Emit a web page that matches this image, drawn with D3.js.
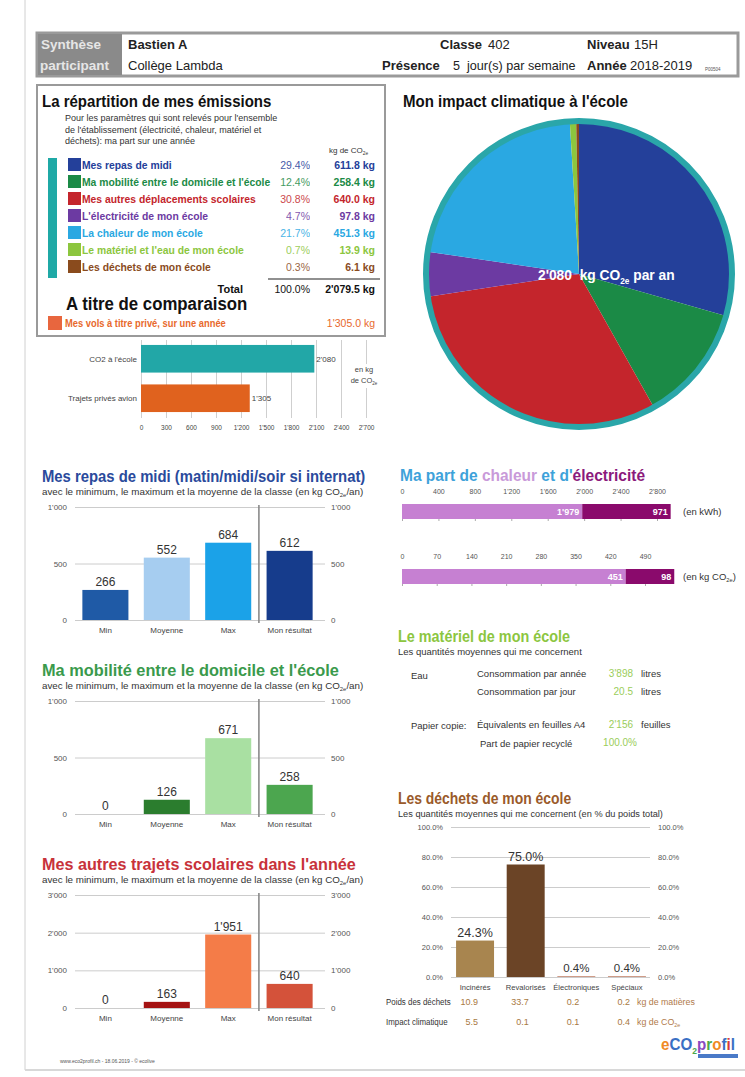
<!DOCTYPE html>
<html>
<head>
<meta charset="utf-8">
<script src="https://cdn.jsdelivr.net/npm/d3@7"></script>
<style>
  body { margin: 0; background: #fff; }
  svg { display: block; font-family: "Liberation Sans", Arial, sans-serif; }
</style>
</head>
<body>
<svg id="page" width="745" height="1077"></svg>
<script>
// ---------- data ----------
const emissionLabels = ["Mes repas de midi", "Ma mobilité entre le domicile et l'école", "Mes autres déplacements scolaires",
  "L'électricité de mon école", "La chaleur de mon école", "Le matériel et l'eau de mon école", "Les déchets de mon école"];
const emissionShares = [29.4, 12.4, 30.8, 4.7, 21.7, 0.7, 0.3];
const emissionKg = [611.8, 258.4, 640.0, 97.8, 451.3, 13.9, 6.1];
const emissionColors = ["#24409a", "#1b8a46", "#c4252c", "#6c3aa2", "#2aa8e2", "#8cc63e", "#8a4b1d"];
const emissionTotal = 2079.5;
const flightKg = 1305.0;

const comparisonLabels = ["CO2 à l'école", "Trajets privés avion"];
const comparisonValues = [2080, 1305];
const comparisonTicks = [0, 300, 600, 900, 1200, 1500, 1800, 2100, 2400, 2700];

const classCategories = ["Min", "Moyenne", "Max", "Mon résultat"];
const repasValues = [266, 552, 684, 612];
const mobiliteValues = [0, 126, 671, 258];
const trajetsValues = [0, 163, 1951, 640];

const heatLabels = ["chaleur", "électricité"];
const energyKwh = [1979, 971];
const energyCo2 = [451, 98];
const kwhTicks = [0, 400, 800, 1200, 1600, 2000, 2400, 2800];
const co2Ticks = [0, 70, 140, 210, 280, 350, 420, 490];

const waterPerYear = 3898;
const waterPerDay = 20.5;
const paperSheets = 2156;
const paperRecycled = 100.0;

const wasteCategories = ["Incinérés", "Revalorisés", "Électroniques", "Spéciaux"];
const wasteShares = [24.3, 75.0, 0.4, 0.4];
const wasteWeight = [10.9, 33.7, 0.2, 0.2];
const wasteImpact = [5.5, 0.1, 0.1, 0.4];
const wasteTicks = [0, 20, 40, 60, 80, 100];

// ---------- helpers ----------
const loc = d3.formatLocale({ decimal: ".", thousands: "'", grouping: [3], currency: ["", ""] });
const fmt0 = loc.format(",.0f");
const fmt1 = loc.format(",.1f");

const svg = d3.select("#page");

// text helper; opts.sx squeezes the text horizontally (the original uses a narrow face)
function txt(g, x, y, s, size, opts = {}) {
  const t = g.append("text").attr("font-size", size)
    .attr("fill", opts.fill || "#333")
    .attr("text-anchor", opts.anchor || "start")
    .attr("font-weight", opts.bold ? "bold" : "normal")
    .text(s);
  if (opts.sx) t.attr("transform", `translate(${x},${y}) scale(${opts.sx},1)`);
  else t.attr("x", x).attr("y", y);
  return t;
}
// "CO2e" with small subscript
function co2(t, base) {
  t.append("tspan").text("CO");
  t.append("tspan").text("2e").attr("font-size", "0.6em").attr("dy", base * 0.25);
  return t;
}

// page edge
svg.append("line").attr("x1", 25).attr("x2", 25).attr("y1", 0).attr("y2", 1070).attr("stroke", "#d0d0d0");
svg.append("line").attr("x1", 25).attr("x2", 745).attr("y1", 1070).attr("y2", 1070).attr("stroke", "#d8d8d8").attr("stroke-width", 2);

// ---------- header ----------
const hd = svg.append("g");
hd.append("rect").attr("x", 37).attr("y", 33).attr("width", 701).attr("height", 43)
  .attr("fill", "#fff").attr("stroke", "#9a9a9a").attr("stroke-width", 3);
hd.append("rect").attr("x", 38).attr("y", 34).attr("width", 84).attr("height", 41).attr("fill", "#8a8a8a");
txt(hd, 41, 49, "Synthèse", 13.5, { bold: true, fill: "#e6e6e6" });
txt(hd, 40, 70, "participant", 13.5, { bold: true, fill: "#e6e6e6" });
txt(hd, 128, 49, "Bastien A", 13, { bold: true, fill: "#222" });
txt(hd, 128, 70, "Collège Lambda", 13, { fill: "#222" });
txt(hd, 440, 49, "Classe", 13, { bold: true, fill: "#222" });
txt(hd, 488, 49, "402", 13, { fill: "#222" });
txt(hd, 587, 49, "Niveau", 13, { bold: true, fill: "#222" });
txt(hd, 634, 49, "15H", 13, { fill: "#222" });
txt(hd, 382, 70, "Présence", 13, { bold: true, fill: "#222" });
txt(hd, 453, 70, "5\u00a0 jour(s) par semaine", 13, { fill: "#222", sx: 0.97 });
txt(hd, 587, 70, "Année", 13, { bold: true, fill: "#222" });
txt(hd, 630, 70, "2018-2019", 13, { fill: "#222" });
txt(hd, 705, 71, "P00504", 4.5, { fill: "#555" });

// ---------- emissions table ----------
const em = svg.append("g");
em.append("rect").attr("x", 37).attr("y", 85).attr("width", 348).attr("height", 251)
  .attr("fill", "none").attr("stroke", "#9a9a9a").attr("stroke-width", 2);
txt(em, 42, 107, "La répartition de mes émissions", 16.5, { bold: true, fill: "#111", sx: 0.91 });
["Pour les paramètres qui sont relevés pour l'ensemble",
 "de l'établissement (électricité, chaleur, matériel et",
 "déchets): ma part sur une année"].forEach((s, i) => txt(em, 65, 121 + i * 11.5, s, 9, { fill: "#333" }));
co2(txt(em, 329, 153, "kg de ", 8, { fill: "#333" }), 8);

const rowY = d3.scalePoint().domain(emissionLabels).range([169, 271]);
em.append("rect").attr("x", 48).attr("y", 158).attr("width", 9).attr("height", 120).attr("fill", "#1fa9a6");
emissionLabels.forEach((lab, i) => {
  const y = rowY(lab);
  em.append("rect").attr("x", 68).attr("y", y - 11).attr("width", 13).attr("height", 13).attr("fill", emissionColors[i]);
  txt(em, 82, y, lab, 11.5, { bold: true, fill: emissionColors[i], sx: 0.9 });
  txt(em, 310, y, emissionShares[i].toFixed(1) + "%", 10.5, { anchor: "end", fill: emissionColors[i] }).attr("opacity", 0.85);
  txt(em, 375, y, fmt1(emissionKg[i]) + " kg", 10.5, { anchor: "end", bold: true, fill: emissionColors[i] });
});
em.append("line").attr("x1", 268).attr("x2", 380).attr("y1", 279).attr("y2", 279).attr("stroke", "#222").attr("stroke-width", 1.2);
txt(em, 243, 293, "Total", 11, { anchor: "end", bold: true, fill: "#111" });
txt(em, 310, 293, d3.sum(emissionShares).toFixed(1) + "%", 10.5, { anchor: "end", fill: "#111" });
txt(em, 375, 293, fmt1(emissionTotal) + " kg", 10.5, { anchor: "end", bold: true, fill: "#111" });
txt(em, 66, 310, "A titre de comparaison", 17.5, { bold: true, fill: "#111", sx: 0.96 });
em.append("rect").attr("x", 48).attr("y", 316).attr("width", 14).attr("height", 14).attr("fill", "#e8663e");
txt(em, 65, 327, "Mes vols à titre privé, sur une année", 11, { bold: true, fill: "#e8692c", sx: 0.85 });
txt(em, 375, 327, fmt1(flightKg) + " kg", 10.5, { anchor: "end", fill: "#e8692c" });

// ---------- comparison bars ----------
const cmp = svg.append("g");
const cx = d3.scaleLinear().domain([0, 2700]).range([141, 366]);
const cy = d3.scaleBand().domain(comparisonLabels).range([341, 416]).paddingInner(0.3).paddingOuter(0.1);
cmp.append("g").attr("transform", "translate(0,418)")
  .call(d3.axisBottom(cx).tickValues(comparisonTicks).tickSize(-78).tickPadding(7).tickFormat(fmt0))
  .call(g => g.select(".domain").remove())
  .call(g => g.selectAll(".tick line").attr("stroke", "#cfcfcf"))
  .call(g => g.selectAll(".tick text").attr("font-size", 6.5).attr("fill", "#444").attr("font-family", null));
cmp.selectAll("rect.cb").data(comparisonValues).join("rect").attr("class", "cb")
  .attr("x", cx(0)).attr("y", (d, i) => cy(comparisonLabels[i]))
  .attr("width", d => cx(d) - cx(0)).attr("height", cy.bandwidth())
  .attr("fill", (d, i) => i === 0 ? "#22a7a7" : "#e0621e");
comparisonValues.forEach((v, i) => {
  const y = cy(comparisonLabels[i]) + cy.bandwidth() / 2 + 3;
  txt(cmp, 137, y, comparisonLabels[i], 8, { anchor: "end", fill: "#444" });
  txt(cmp, cx(v) + 2, y, fmt0(v), 8, { fill: "#444" });
});
cmp.append("rect").attr("x", 348).attr("y", 364).attr("width", 32).attr("height", 24).attr("fill", "#fff");
txt(cmp, 364, 372, "en kg", 7.5, { anchor: "middle", fill: "#444" });
co2(txt(cmp, 364, 383, "de ", 7.5, { anchor: "middle", fill: "#444" }), 7.5);

// ---------- pie ----------
const pg = svg.append("g").attr("transform", "translate(579,274)");
txt(svg, 403, 107, "Mon impact climatique à l'école", 16, { bold: true, fill: "#111", sx: 0.94 });
const pie = d3.pie().sort(null).value(d => d)(emissionKg);
const arc = d3.arc().innerRadius(0).outerRadius(151);
pg.selectAll("path").data(pie).join("path").attr("d", arc).attr("fill", (d, i) => emissionColors[i]);
pg.append("circle").attr("r", 153).attr("fill", "none").attr("stroke", "#2aa6a9").attr("stroke-width", 6);
const pl = txt(svg, 538, 280, fmt0(emissionTotal) + "\u00a0 kg ", 15, { bold: true, fill: "#fff", sx: 0.92 });
co2(pl, 15);
pl.append("tspan").text(" par an").attr("dy", -15 * 0.25);

// ---------- class charts ----------
function classChart(yTop, title, titleColor, titleSx, values, colors, maxVal, ticks) {
  const g = svg.append("g");
  txt(g, 42, yTop - 25, title, 16.5, { bold: true, fill: titleColor, sx: titleSx });
  co2(txt(g, 42, yTop - 12, "avec le minimum, le maximum et la moyenne de la classe (en kg ", 9.8, { fill: "#333" }), 9.8)
    .append("tspan").text("/an)").attr("dy", -9.8 * 0.25);
  const y0 = yTop + 113;
  const x = d3.scaleBand().domain(classCategories).range([75, 320]).paddingInner(0.25).paddingOuter(0.12);
  const y = d3.scaleLinear().domain([0, maxVal]).range([y0, yTop]);
  g.append("g").attr("transform", "translate(75,0)")
    .call(d3.axisLeft(y).tickValues(ticks).tickSize(-250).tickPadding(8).tickFormat(fmt0))
    .call(a => a.select(".domain").remove())
    .call(a => a.selectAll(".tick line").attr("stroke", "#cccccc"))
    .call(a => a.selectAll(".tick text").attr("font-size", 8).attr("fill", "#555").attr("font-family", null));
  g.append("g").attr("transform", "translate(325,0)")
    .call(d3.axisRight(y).tickValues(ticks).tickSize(0).tickPadding(6).tickFormat(fmt0))
    .call(a => a.select(".domain").remove())
    .call(a => a.selectAll(".tick text").attr("font-size", 8).attr("fill", "#555").attr("font-family", null));
  g.selectAll("rect.bar").data(values).join("rect").attr("class", "bar")
    .attr("x", (d, i) => x(classCategories[i])).attr("width", x.bandwidth())
    .attr("y", d => y(d)).attr("height", d => y0 - y(d))
    .attr("fill", (d, i) => colors[i]);
  const sep = x(classCategories[3]) - x.step() * x.paddingInner() / 2;
  g.append("line").attr("x1", sep).attr("x2", sep).attr("y1", yTop - 2).attr("y2", y0 + 3)
    .attr("stroke", "#8a8a8a").attr("stroke-width", 1.6);
  values.forEach((v, i) => {
    const cxm = x(classCategories[i]) + x.bandwidth() / 2;
    txt(g, cxm, y(v) - 4, fmt0(v), 12, { anchor: "middle", fill: "#333" });
    txt(g, cxm, y0 + 13, classCategories[i], 8, { anchor: "middle", fill: "#444" });
  });
}
classChart(507, "Mes repas de midi (matin/midi/soir si internat)", "#2a4a9c", 0.9, repasValues,
  ["#1f5aa6", "#a6cdf0", "#1ba2e8", "#163c8c"], 1000, [0, 500, 1000]);
classChart(701, "Ma mobilité entre le domicile et l'école", "#3a9a4c", 0.99, mobiliteValues,
  ["#2b7d2e", "#2b7d2e", "#a9e0a2", "#4ca64f"], 1000, [0, 500, 1000]);
classChart(895, "Mes autres trajets scolaires dans l'année", "#c8323a", 0.98, trajetsValues,
  ["#a51313", "#a51313", "#f47c48", "#d4523a"], 3000, [0, 1000, 2000, 3000]);

// ---------- chaleur / électricité ----------
const ch = svg.append("g");
const ct = txt(ch, 400, 481, "", 16, { bold: true, fill: "#3ea2da", sx: 0.97 });
ct.append("tspan").text("Ma part de ");
ct.append("tspan").text(heatLabels[0]).attr("fill", "#c99ad9");
ct.append("tspan").text(" et d'");
ct.append("tspan").text(heatLabels[1]).attr("fill", "#8b1a7c");

function energyBar(values, ticks, xMaxTick, yBar, unitNode) {
  const x = d3.scaleLinear().domain([0, ticks[ticks.length - 1]]).range([402, xMaxTick]);
  ch.append("g").attr("transform", `translate(0,${yBar - 4})`)
    .call(d3.axisTop(x).tickValues(ticks).tickSize(0).tickPadding(6).tickFormat(fmt0))
    .call(a => a.select(".domain").remove())
    .call(a => a.selectAll(".tick text").attr("font-size", 7).attr("fill", "#555").attr("font-family", null));
  ch.append("g").attr("transform", `translate(0,${yBar + 15})`)
    .call(d3.axisBottom(x).tickValues(ticks).tickSize(2).tickFormat(""))
    .call(a => a.select(".domain").remove())
    .call(a => a.selectAll(".tick line").attr("stroke", "#aaa"));
  const stack = [0, values[0], values[0] + values[1]];
  ["#c680d2", "#8a0a6c"].forEach((c, i) => {
    ch.append("rect").attr("x", x(stack[i])).attr("y", yBar).attr("width", x(stack[i + 1]) - x(stack[i]))
      .attr("height", 15).attr("fill", c);
    txt(ch, x(stack[i + 1]) - 3, yBar + 11, fmt0(values[i]), 9, { anchor: "end", bold: true, fill: "#fff" });
  });
  unitNode(txt(ch, 683, yBar + 11, "", 9.5, { fill: "#333" }));
}
energyBar(energyKwh, kwhTicks, 657, 504, t => t.text("(en kWh)"));
energyBar(energyCo2, co2Ticks, 645, 569, t => { co2(t.text("(en kg "), 9.5); t.append("tspan").text(")").attr("dy", -9.5 * 0.25); });

// ---------- matériel ----------
const mt = svg.append("g");
txt(mt, 398, 642, "Le matériel de mon école", 16, { bold: true, fill: "#8cc63f", sx: 0.9 });
txt(mt, 398, 655, "Les quantités moyennes qui me concernent", 9.5, { fill: "#333" });
txt(mt, 411, 679, "Eau", 9.5);
txt(mt, 477, 677, "Consommation par année", 9.5);
txt(mt, 633, 677, fmt0(waterPerYear), 10, { anchor: "end", fill: "#9acd5a" });
txt(mt, 641, 677, "litres", 9.5);
txt(mt, 477, 695, "Consommation par jour", 9.5);
txt(mt, 633, 695, fmt1(waterPerDay), 10, { anchor: "end", fill: "#9acd5a" });
txt(mt, 641, 695, "litres", 9.5);
txt(mt, 411, 729, "Papier copie:", 9.5);
txt(mt, 477, 728, "Équivalents en feuilles A4", 9.5);
txt(mt, 633, 728, fmt0(paperSheets), 10, { anchor: "end", fill: "#9acd5a" });
txt(mt, 641, 728, "feuilles", 9.5);
txt(mt, 480, 747, "Part de papier recyclé", 9.5);
txt(mt, 637, 746, paperRecycled.toFixed(1) + "%", 10, { anchor: "end", fill: "#9acd5a" });

// ---------- déchets ----------
const dc = svg.append("g");
txt(dc, 398, 804, "Les déchets de mon école", 16, { bold: true, fill: "#9a5a2a", sx: 0.87 });
txt(dc, 398, 817, "Les quantités moyennes qui me concernent (en % du poids total)", 9.5, { fill: "#333", sx: 0.97 });
const wx = d3.scaleBand().domain(wasteCategories).range([451, 651]).paddingInner(0.25).paddingOuter(0.1);
const wy = d3.scaleLinear().domain([0, 100]).range([977, 827]);
const pct = d => d.toFixed(1) + "%";
dc.append("g").attr("transform", "translate(451,0)")
  .call(d3.axisLeft(wy).tickValues(wasteTicks).tickSize(-199).tickPadding(8).tickFormat(pct))
  .call(a => a.select(".domain").remove())
  .call(a => a.selectAll(".tick line").attr("stroke", "#cccccc"))
  .call(a => a.selectAll(".tick text").attr("font-size", 7.5).attr("fill", "#555").attr("font-family", null));
dc.append("g").attr("transform", "translate(652,0)")
  .call(d3.axisRight(wy).tickValues(wasteTicks).tickSize(0).tickPadding(6).tickFormat(pct))
  .call(a => a.select(".domain").remove())
  .call(a => a.selectAll(".tick text").attr("font-size", 7.5).attr("fill", "#555").attr("font-family", null));
const wColors = ["#a8854f", "#6b4426", "#b05a3a", "#b05a3a"];
dc.selectAll("rect.wb").data(wasteShares).join("rect").attr("class", "wb")
  .attr("x", (d, i) => wx(wasteCategories[i])).attr("width", wx.bandwidth())
  .attr("y", d => wy(d)).attr("height", d => 977 - wy(d))
  .attr("fill", (d, i) => wColors[i]);
wasteShares.forEach((v, i) => {
  const m = wx(wasteCategories[i]) + wx.bandwidth() / 2;
  txt(dc, m, wy(v) - 4, pct(v), v > 10 ? 12.5 : 11.5, { anchor: "middle", fill: "#333" });
  txt(dc, m, 990, wasteCategories[i], 8, { anchor: "middle", fill: "#444", sx: 0.95 });
  txt(dc, m + 3, 1005, wasteWeight[i].toFixed(1), 9, { anchor: "end", fill: "#a8793f" });
  txt(dc, m + 3, 1025, wasteImpact[i].toFixed(1), 9, { anchor: "end", fill: "#a8793f" });
});
txt(dc, 386, 1005, "Poids des déchets", 9, { fill: "#333", sx: 0.88 });
txt(dc, 386, 1025, "Impact climatique", 9, { fill: "#333", sx: 0.88 });
txt(dc, 637, 1005, "kg de matières", 9.5, { fill: "#b07a4a", sx: 0.93 });
co2(txt(dc, 637, 1025, "kg de ", 9.5, { fill: "#b07a4a", sx: 0.93 }), 9.5);

// ---------- footer & logo ----------
txt(svg, 60, 1063, "www.eco2profil.ch - 18.06.2019 - © ecolive", 5, { fill: "#555" });
const logo = txt(svg, 661, 1050, "", 16, { bold: true, sx: 0.95 });
[["e", "#f08a24"], ["C", "#3a6fc4"], ["O", "#3a6fc4"]].forEach(([c, col]) => logo.append("tspan").text(c).attr("fill", col));
logo.append("tspan").text("2").attr("fill", "#4aa84a").attr("font-size", 9).attr("dy", 4);
[["p", "#8a4ac0"], ["r", "#4aa84a"], ["o", "#f08a24"], ["f", "#3a6fc4"], ["i", "#d83a3a"], ["l", "#3a6fc4"]]
  .forEach(([c, col], i) => logo.append("tspan").text(c).attr("fill", col).attr("dy", i === 0 ? -4 : 0));
svg.append("rect").attr("x", 698).attr("y", 1054).attr("width", 40).attr("height", 4).attr("fill", "#4a7ac8");
</script>
</body>
</html>
